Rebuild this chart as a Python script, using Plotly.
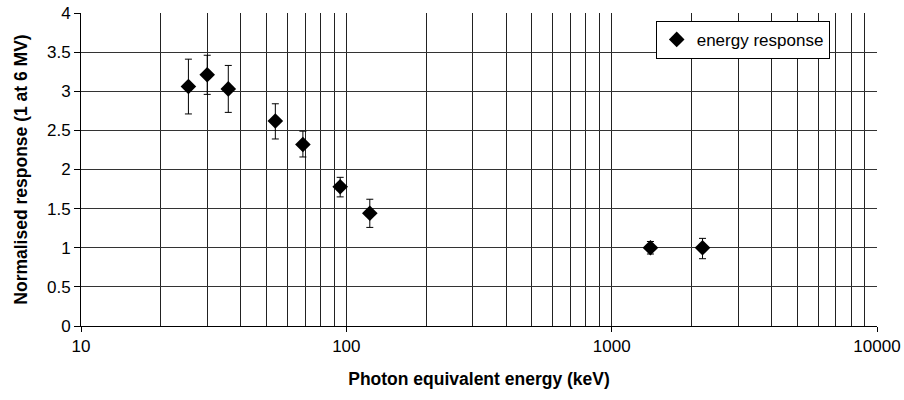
import plotly.graph_objects as go

energy_kev = [25.4, 29.9, 35.9, 54, 68.6, 94.8, 122.6, 1400, 2200]
response = [3.06, 3.21, 3.03, 2.62, 2.32, 1.78, 1.44, 1.0, 1.0]
err_plus = [0.35, 0.25, 0.30, 0.22, 0.17, 0.12, 0.18, 0.08, 0.12]
err_minus = [0.35, 0.25, 0.30, 0.23, 0.16, 0.13, 0.18, 0.08, 0.14]

x_ticks = [10, 100, 1000, 10000]
y_ticks = [0, 0.5, 1, 1.5, 2, 2.5, 3, 3.5, 4]
y_tick_labels = ["0", "0.5", "1", "1.5", "2", "2.5", "3", "3.5", "4"]

fig = go.Figure()
fig.add_trace(go.Scatter(
    x=energy_kev, y=response, mode="markers", name="energy response",
    marker=dict(symbol="diamond", size=12, color="black"),
    error_y=dict(type="data", symmetric=False, array=err_plus, arrayminus=err_minus,
                 color="black", thickness=1, width=3.5),
))

font = "Arial, Liberation Sans, sans-serif"
fig.update_layout(
    width=904, height=400,
    margin=dict(l=81, r=27, t=13, b=74),
    paper_bgcolor="white", plot_bgcolor="white",
    font=dict(family=font, size=17, color="black"),
    showlegend=True,
    legend=dict(x=0.722, y=0.975, xanchor="left", yanchor="top",
                bgcolor="white", bordercolor="black", borderwidth=1,
                font=dict(size=17), itemsizing="constant",
                tracegroupgap=0),
    xaxis=dict(
        type="log", range=[1, 4], automargin=False,
        tickvals=x_ticks, ticktext=[str(v) for v in x_ticks],
        showgrid=True, gridcolor="#222", gridwidth=1,
        minor=dict(dtick="D1", showgrid=True, gridcolor="#222", gridwidth=1, ticks=""),
        showline=True, linecolor="black", linewidth=1,
        ticks="outside", ticklen=5, tickcolor="black",
        tickfont=dict(size=17),
        title=dict(text="<b>Photon equivalent energy (keV)</b>", font=dict(size=17.5), standoff=17),
        zeroline=False,
    ),
    yaxis=dict(
        range=[0, 4], tickvals=y_ticks, ticktext=y_tick_labels, automargin=False,
        showgrid=True, gridcolor="#333", gridwidth=1,
        showline=True, linecolor="black", linewidth=1,
        ticks="outside", ticklen=6, tickcolor="black",
        tickfont=dict(size=17),
        title=dict(text="<b>Normalised response (1 at 6 MV)</b>", font=dict(size=17.5), standoff=14),
        zeroline=False,
    ),
)

fig.write_html("out.html")
